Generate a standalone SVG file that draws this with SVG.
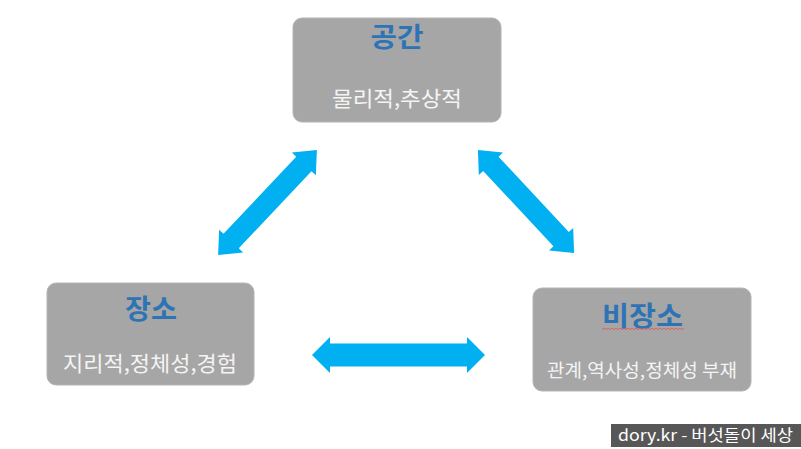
<svg xmlns="http://www.w3.org/2000/svg" width="801" height="449" viewBox="0 0 801 449">
<style>
.box{fill:#a6a6a6;stroke:#b4b4b4;stroke-width:1}
.title{font-family:"Noto Sans CJK KR","Noto Sans",sans-serif;font-weight:bold;font-size:27px;fill:#2e74b5;text-anchor:middle}
.sub{font-family:"Noto Sans CJK KR","Noto Sans",sans-serif;font-size:21px;fill:#f4f4f4;text-anchor:middle}
.arrow{fill:#00b0f0}
</style>
<rect width="801" height="449" fill="#ffffff"/>
<g id="connectors">
<polygon class="arrow" transform="translate(267.5,202.5) rotate(-46.7)" points="-72,0 -53,-16.5 -53,-10.5 53,-10.5 53,-16.5 72,0 53,16.5 53,10.5 -53,10.5 -53,16.5"/>
<polygon class="arrow" transform="translate(526,201.5) rotate(47)" points="-70.5,0 -51.5,-16.5 -51.5,-10.5 51.5,-10.5 51.5,-16.5 70.5,0 51.5,16.5 51.5,10.5 -51.5,10.5 -51.5,16.5"/>
<polygon class="arrow" transform="translate(398.5,355)" points="-86.5,0 -68.5,-18 -68.5,-11.5 68.5,-11.5 68.5,-18 86.5,0 68.5,18 68.5,11.5 -68.5,11.5 -68.5,18"/>
</g>
<g id="space">
<rect class="box" x="293" y="18" width="208" height="104" rx="9"/>
<text class="title" x="397" y="47" textLength="53" lengthAdjust="spacingAndGlyphs">공간</text>
<text class="sub" x="397" y="106" textLength="130" lengthAdjust="spacingAndGlyphs">물리적,추상적</text>
</g>
<g id="place">
<rect class="box" x="47" y="283" width="207" height="102" rx="9"/>
<text class="title" x="151" y="319" textLength="52" lengthAdjust="spacingAndGlyphs">장소</text>
<text class="sub" x="150" y="371" textLength="174" lengthAdjust="spacingAndGlyphs">지리적,정체성,경험</text>
</g>
<g id="non-place">
<rect class="box" x="533" y="288" width="218" height="103" rx="9"/>
<text class="title" x="642.5" y="326" textLength="81" lengthAdjust="spacingAndGlyphs">비장소</text>
<path d="M602,329.5 l2,-1.2 l2,1.2 l2,-1.2 l2,1.2 l2,-1.2 l2,1.2 l2,-1.2 l2,1.2 l2,-1.2 l2,1.2 l2,-1.2 l2,1.2 l2,-1.2 l2,1.2 l2,-1.2 l2,1.2 l2,-1.2 l2,1.2 l2,-1.2 l2,1.2 l2,-1.2 l2,1.2 l2,-1.2 l2,1.2 l2,-1.2 l2,1.2 l2,-1.2 l2,1.2 l2,-1.2 l2,1.2 l2,-1.2 l2,1.2 l2,-1.2 l2,1.2 l2,-1.2 l2,1.2 l2,-1.2 l2,1.2 l2,-1.2 l2,1.2 l2,-1.2" fill="none" stroke="#e05a5a" stroke-width="0.9"/>
<text class="sub" x="642" y="377" style="font-size:18px" textLength="190" lengthAdjust="spacingAndGlyphs">관계,역사성,정체성 부재</text>
</g>
<g id="watermark">
<rect x="611" y="424" width="190" height="23" fill="#575757"/>
<text x="618" y="441" font-family="'Noto Sans CJK KR','Noto Sans',sans-serif" font-size="16" fill="#ffffff" textLength="175" lengthAdjust="spacingAndGlyphs">dory.kr - 버섯돌이 세상</text>
</g>
</svg>
